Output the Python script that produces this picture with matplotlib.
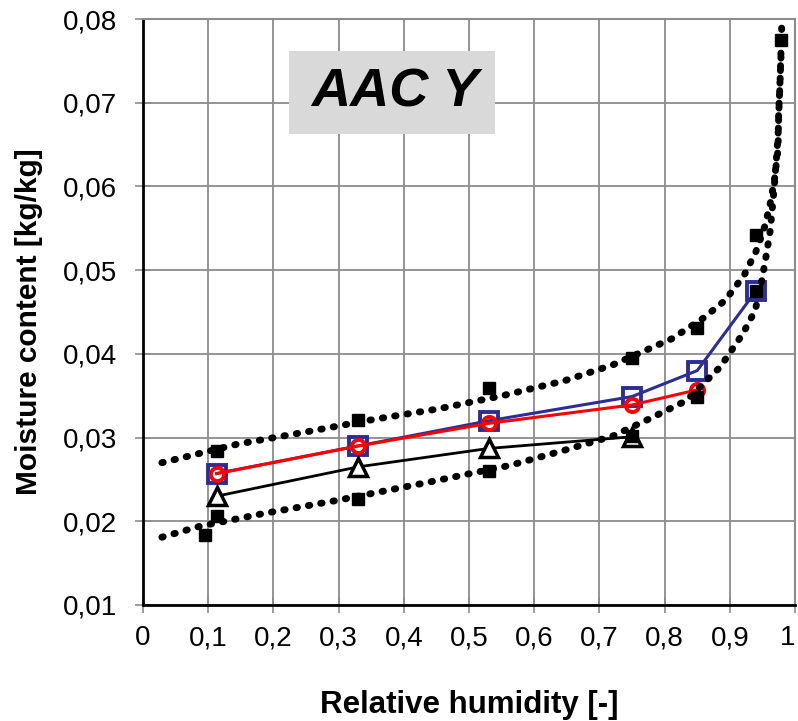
import matplotlib
matplotlib.use("Agg")
import matplotlib.pyplot as plt
from matplotlib.patches import Rectangle
from matplotlib.ticker import FuncFormatter

plt.rcParams['font.family'] = ['Liberation Sans', 'DejaVu Sans']

# measured points (black squares)
meas_x = [0.095, 0.113, 0.113, 0.33, 0.33, 0.53, 0.53, 0.75, 0.75, 0.85, 0.85, 0.94, 0.94, 0.979]
meas_y = [0.0184, 0.0206, 0.0284, 0.0227, 0.0321, 0.0260, 0.0359, 0.0302, 0.0395, 0.0348, 0.0431, 0.0475, 0.0542, 0.0775]

# upper bound curve (dotted)
up_x = [0.029, 0.144, 0.259, 0.356, 0.451, 0.551, 0.647, 0.721, 0.811, 0.860, 0.893,
        0.922, 0.940, 0.954, 0.963, 0.969, 0.974, 0.975, 0.977, 0.980]
up_y = [0.0270, 0.0292, 0.0308, 0.0322, 0.0334, 0.0350, 0.0368, 0.0387, 0.0418, 0.0443, 0.0464,
        0.0494, 0.0522, 0.0553, 0.0583, 0.0611, 0.0644, 0.0689, 0.0721, 0.0800]

# lower bound curve (dotted)
lo_x = [0.029, 0.087, 0.183, 0.298, 0.440, 0.564, 0.647, 0.721, 0.773, 0.833, 0.885,
        0.920, 0.939, 0.949, 0.956, 0.962, 0.968, 0.971, 0.974, 0.976, 0.979]
lo_y = [0.0181, 0.0194, 0.0209, 0.0225, 0.0247, 0.0267, 0.0285, 0.0302, 0.0321, 0.0344, 0.0384,
        0.0424, 0.0452, 0.0487, 0.0518, 0.0547, 0.0597, 0.0628, 0.0660, 0.0704, 0.0765]

# series with markers
sq_x = [0.113, 0.33, 0.53, 0.75, 0.85, 0.94]
sq_y = [0.0257, 0.0290, 0.0320, 0.0349, 0.0380, 0.0475]

ci_x = [0.113, 0.33, 0.53, 0.75, 0.85]
ci_y = [0.0257, 0.0290, 0.0317, 0.0339, 0.0357]

tr_x = [0.113, 0.33, 0.53, 0.75]
tr_y = [0.0230, 0.0265, 0.0287, 0.0301]

xticks = [0.0, 0.1, 0.2, 0.3, 0.4, 0.5, 0.6, 0.7, 0.8, 0.9, 1.0]
yticks = [0.01, 0.02, 0.03, 0.04, 0.05, 0.06, 0.07, 0.08]

fig = plt.figure(figsize=(7.98, 7.21), dpi=100)
ax = fig.add_axes([0.1792, 0.1609, 0.8170, 0.8127])

ax.plot(sq_x, sq_y, color='#2B2E96', lw=2.2, marker='s', ms=13, mfc='none',
        mec='#2B2E96', mew=2.8, zorder=3)
ax.plot(ci_x, ci_y, color='#FF0000', lw=2.2, marker='o', ms=9.5, mfc='none',
        mec='#FF0000', mew=2.8, zorder=4)
ax.plot(tr_x, tr_y, color='black', lw=2.0, marker='^', ms=13, mfc='white',
        mec='black', mew=2.5, zorder=3)

dots = (0, (0.2, 1.6))
ax.plot(up_x, up_y, color='black', lw=5, linestyle=dots,
        dash_capstyle='round', zorder=5)
ax.plot(lo_x, lo_y, color='black', lw=5, linestyle=dots,
        dash_capstyle='round', zorder=5)
ax.plot(meas_x, meas_y, linestyle='none', marker='s', ms=9, color='black', zorder=6)

ax.set_xlim(0, 1)
ax.set_ylim(0.01, 0.08)
ax.set_xticks(xticks)
ax.set_yticks(yticks)

def fmt_x(v, pos):
    s = '%.1f' % v
    if s.endswith('.0'):
        s = s[:-2]
    return s.replace('.', ',')

def fmt_y(v, pos):
    return ('%.2f' % v).replace('.', ',')

ax.xaxis.set_major_formatter(FuncFormatter(fmt_x))
ax.yaxis.set_major_formatter(FuncFormatter(fmt_y))

ax.grid(True, color='#8C8C8C', lw=1.3)
ax.set_axisbelow(True)
for side in ['top', 'right']:
    ax.spines[side].set_color('#8C8C8C')
    ax.spines[side].set_linewidth(1.5)
for side in ['left', 'bottom']:
    ax.spines[side].set_color('black')
    ax.spines[side].set_linewidth(2)

ax.tick_params(axis='both', direction='inout', length=11.5, width=1.2,
               color='#8C8C8C', labelsize=20)
ax.tick_params(axis='x', pad=9)
ax.tick_params(axis='y', pad=13)

# last x label sits at the figure edge, keep it inside
ax.xaxis.get_major_ticks()[len(xticks) - 1].label1.set_horizontalalignment('right')

ax.set_xlabel('Relative humidity [-]', fontsize=22.5, fontweight='bold', va='center')
ax.xaxis.set_label_coords(0.5, -0.171)
ax.set_ylabel('Moisture content [kg/kg]', fontsize=21.5, fontweight='bold', va='center')
ax.yaxis.set_label_coords(-0.175, 0.484)

ax.add_patch(Rectangle((0.224, 0.804), 0.316, 0.141, transform=ax.transAxes,
                       fc='#D9D9D9', ec='none', zorder=7))
ax.text(0.386, 0.874, 'AAC Y', transform=ax.transAxes, ha='center', va='center',
        fontsize=39, fontweight='bold', fontstyle='italic', zorder=8)

fig.savefig('out.png', dpi=100)
